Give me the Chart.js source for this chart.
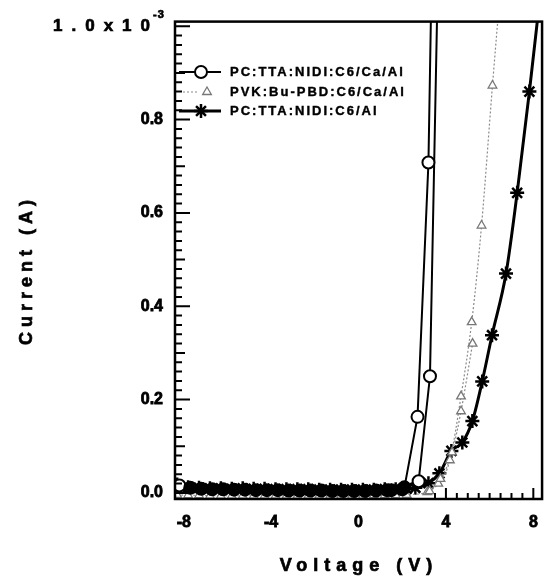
<!DOCTYPE html>
<html>
<head>
<meta charset="utf-8">
<script src="https://cdn.jsdelivr.net/npm/chart.js@4.4.1/dist/chart.umd.min.js"></script>
<style>
  html, body { margin: 0; padding: 0; background: #fff; }
</style>
</head>
<body>
<canvas id="ivChart" width="552" height="579"></canvas>
<script>
// voltage in V, current in units of 1e-3 A; null splits the two sweep branches
const circleLabel = 'PC:TTA:NIDI:C6/Ca/Al';
const circleV = [-8.2, -7.7, -7.2, -6.7, -6.2, -5.7, -5.2, -4.7, -4.2, -3.7, -3.2, -2.7, -2.2, -1.7, -1.2, -0.7, -0.2, 0.3, 0.8, 1.3, 2.1, 2.7, 3.2, 3.65,
                 null, 1.5, 2.0, 2.75, 3.27, 3.75];
const circleI = [0.016, 0.011, 0.009, 0.008, 0.008, 0.007, 0.007, 0.006, 0.006, 0.006, 0.005, 0.005, 0.005, 0.005, 0.004, 0.004, 0.004, 0.004, 0.005, 0.006, 0.012, 0.163, 0.708, 1.95,
                 null, 0.006, 0.008, 0.025, 0.25, 1.39];

const triangleLabel = 'PVK:Bu-PBD:C6/Ca/Al';
const triangleV = [-8.3, -7.8, -7.3, -6.8, -6.3, -5.8, -5.3, -4.8, -4.3, -3.8, -3.3, -2.8, -2.3, -1.8, -1.3, -0.8, -0.3, 0.2, 0.7, 1.2, 1.7, 2.2, 3.15, 3.65, 4.18, 4.69, 5.18, 5.63, 6.13, 6.6,
                   null, 3.25, 3.75, 4.28, 4.69, 5.22];
const triangleI = [-0.004, -0.005, -0.005, -0.006, -0.006, -0.006, -0.006, -0.006, -0.006, -0.006, -0.006, -0.006, -0.006, -0.006, -0.006, -0.006, -0.006, -0.006, -0.005, -0.005, -0.005, -0.004, 0.002, 0.02, 0.07, 0.207, 0.366, 0.573, 0.873, 1.14,
                   null, 0.004, 0.03, 0.087, 0.175, 0.32];

const starLabel = 'PC:TTA:NIDI:C6/Al';
const starV = [-8.3, -7.8, -7.3, -6.8, -6.3, -5.8, -5.3, -4.8, -4.3, -3.8, -3.3, -2.8, -2.3, -1.8, -1.3, -0.8, -0.3, 0.2, 0.7, 1.2, 1.7, 2.2, 2.6, 3.2, 3.7, 4.25, 4.75, 5.21, 5.66, 6.11, 6.75, 7.26, 7.82, 8.3];
const starI = [0.018, 0.012, 0.011, 0.010, 0.010, 0.009, 0.010, 0.009, 0.009, 0.008, 0.008, 0.008, 0.008, 0.007, 0.007, 0.007, 0.007, 0.007, 0.007, 0.008, 0.008, 0.009, 0.011, 0.021, 0.042, 0.09, 0.108, 0.154, 0.239, 0.338, 0.47, 0.643, 0.86, 1.06];

const xTickValues = [-8, -4, 0, 4, 8];
const yTickValues = [0, 0.2, 0.4, 0.6, 0.8, 1.0];

const toPoints = (vs, is) => vs.map((v, k) => ({ x: v, y: is[k] }));

const FONT = 'Liberation Sans';

// markers sitting in the baseline band print as solid black
const bandFill = ctx => (ctx.raw && ctx.raw.y !== null && ctx.raw.y < 0.016 ? '#000' : '#fff');

const framePlugin = {
  id: 'ivFrame',
  afterDatasetsDraw(chart) {
    const { ctx, chartArea: a } = chart;
    ctx.save();
    ctx.strokeStyle = '#000';
    ctx.lineWidth = 2.5;
    ctx.strokeRect(a.left, a.top, a.right - a.left, a.bottom - a.top);
    ctx.restore();
  },
  afterDraw(chart) {
    const { ctx, chartArea: a, scales: { x, y } } = chart;
    ctx.save();
    ctx.fillStyle = '#000';
    ctx.strokeStyle = '#000';
    ctx.lineWidth = 0.7;

    // top y label with its exponent
    const ty = y.getPixelForValue(1.0);
    ctx.font = 'bold 17px "' + FONT + '"';
    ctx.letterSpacing = '9px';
    ctx.textAlign = 'right';
    ctx.textBaseline = 'middle';
    ctx.fillText('1.0x10', 159, ty);
    ctx.strokeText('1.0x10', 159, ty);
    ctx.font = 'bold 11px "' + FONT + '"';
    ctx.letterSpacing = '1px';
    ctx.textAlign = 'left';
    ctx.fillText('-3', 153, ty - 11);
    ctx.strokeText('-3', 153, ty - 11);

    // axis titles
    ctx.font = 'bold 18px "' + FONT + '"';
    ctx.letterSpacing = '6px';
    ctx.textAlign = 'center';
    ctx.fillText('Voltage (V)', 359, 566);
    ctx.strokeText('Voltage (V)', 359, 566);
    ctx.save();
    ctx.translate(27, 272);
    ctx.rotate(-Math.PI / 2);
    ctx.font = 'bold 18px "' + FONT + '"';
    ctx.letterSpacing = '5px';
    ctx.fillText('Current (A)', 2, 0);
    ctx.strokeText('Current (A)', 2, 0);
    ctx.restore();

    // legend inside the plot
    const rows = [72, 92, 111];
    chart.data.datasets.forEach((ds, i) => {
      const ly = rows[i];
      ctx.save();
      ctx.strokeStyle = ds.borderColor;
      ctx.lineWidth = ds.borderWidth;
      ctx.setLineDash(ds.borderDash || []);
      ctx.beginPath();
      ctx.moveTo(i === 1 ? 183 : 179, ly);
      ctx.lineTo(i === 1 ? 197 : 221, ly);
      ctx.stroke();
      ctx.setLineDash([]);
      ctx.fillStyle = i === 2 ? '#000' : '#fff';
      ctx.strokeStyle = ds.pointBorderColor;
      ctx.lineWidth = ds.pointBorderWidth;
      Chart.helpers.drawPoint(ctx, {
        pointStyle: ds.pointStyle, radius: ds.pointRadius,
        borderWidth: ds.pointBorderWidth, rotation: 0
      }, i === 1 ? 207 : 201, ly);
      ctx.restore();
      ctx.font = 'bold 13px "' + FONT + '"';
      ctx.letterSpacing = '2px';
      ctx.textAlign = 'left';
      ctx.textBaseline = 'middle';
      ctx.lineWidth = 0.4;
      ctx.fillText(ds.label, 230, ly);
      ctx.strokeText(ds.label, 230, ly);
    });

    // inward tick marks: every 0.02 on the current axis, every 0.5 V on the voltage axis
    ctx.setLineDash([]);
    ctx.strokeStyle = '#000';
    ctx.lineWidth = 2;
    ctx.beginPath();
    for (let k = 0; k <= 50; k++) {
      const py = y.getPixelForValue(k * 0.02);
      const len = k % 10 === 0 ? 15 : (k % 5 === 0 ? 10 : 7);
      ctx.moveTo(a.left, py);
      ctx.lineTo(a.left + len, py);
    }
    for (let k = 7; k <= 16; k++) {
      const px = x.getPixelForValue(k * 0.5);
      const len = k % 8 === 0 ? 11 : 6;
      ctx.moveTo(px, a.bottom);
      ctx.lineTo(px, a.bottom - len);
    }
    ctx.stroke();
    ctx.restore();
  }
};

const tickFont = { family: FONT, size: 16, weight: 'bold' };

new Chart(document.getElementById('ivChart'), {
  type: 'line',
  data: {
    datasets: [
      {
        label: circleLabel,
        data: toPoints(circleV, circleI),
        borderColor: '#000', borderWidth: 2,
        pointStyle: 'circle', pointRadius: 6,
        pointBackgroundColor: bandFill, pointBorderColor: '#000', pointBorderWidth: 2,
        clip: 0
      },
      {
        label: triangleLabel,
        data: toPoints(triangleV, triangleI),
        borderColor: '#8a8a8a', borderWidth: 1.2, borderDash: [2, 2],
        cubicInterpolationMode: 'monotone',
        pointStyle: 'triangle', pointRadius: 5,
        pointBackgroundColor: '#fff', pointBorderColor: '#777', pointBorderWidth: 1.3,
        clip: 0
      },
      {
        label: starLabel,
        data: toPoints(starV, starI),
        borderColor: '#000', borderWidth: 3,
        cubicInterpolationMode: 'monotone',
        pointStyle: 'star', pointRadius: 7,
        pointBackgroundColor: '#000', pointBorderColor: '#000', pointBorderWidth: 2.5,
        clip: 0
      }
    ]
  },
  options: {
    responsive: false,
    animation: false,
    devicePixelRatio: 1,
    layout: { padding: { left: 0, right: 4, top: 15, bottom: 0 } },
    plugins: { legend: { display: false }, tooltip: { enabled: false } },
    scales: {
      x: {
        type: 'linear', min: -8.4, max: 8.4,
        afterBuildTicks: s => { s.ticks = xTickValues.map(v => ({ value: v })); },
        afterFit: s => { s.height = 80; },
        grid: { display: false, drawTicks: false },
        border: { display: false },
        ticks: {
          autoSkip: false, maxRotation: 0, padding: 14, color: '#000', font: tickFont,
          textStrokeColor: '#000', textStrokeWidth: 0.8,
          callback: v => String(v)
        }
      },
      y: {
        type: 'linear', min: -0.013, max: 1.01,
        afterBuildTicks: s => { s.ticks = yTickValues.map(v => ({ value: v })); },
        afterFit: s => { s.width = 175; },
        grid: { display: false, drawTicks: false },
        border: { display: false },
        ticks: {
          autoSkip: false, padding: 12, color: '#000', font: tickFont,
          textStrokeColor: '#000', textStrokeWidth: 0.8,
          callback: v => (v === 1 ? '' : v.toFixed(1))
        }
      }
    }
  },
  plugins: [framePlugin]
});
</script>
</body>
</html>
